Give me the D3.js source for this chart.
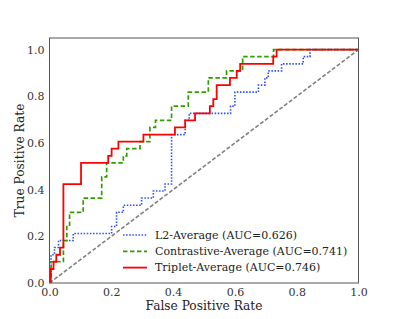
<!DOCTYPE html>
<html>
<head>
<meta charset="utf-8">
<script src="https://cdn.jsdelivr.net/npm/d3@7"></script>
<style>
  html, body { margin: 0; padding: 0; background: #fff; }
  svg { display: block; font-family: 'DejaVu Serif', serif; }
</style>
</head>
<body>
<svg id="chart" width="399" height="319"></svg>
<script>
// ROC points: at fpr[i] the curve rises to tpr[i]
const l2Fpr = [0.005, 0.016, 0.029, 0.077, 0.201, 0.217, 0.239, 0.298, 0.336, 0.374, 0.395, 0.439, 0.452, 0.586, 0.6, 0.676, 0.697, 0.708, 0.751, 0.821, 0.843, 1]
const l2Tpr = [0.121, 0.152, 0.182, 0.212, 0.242, 0.303, 0.333, 0.364, 0.394, 0.424, 0.636, 0.697, 0.727, 0.758, 0.818, 0.848, 0.879, 0.909, 0.939, 0.970, 1, 1]

const contrastiveFpr = [0.005, 0.045, 0.056, 0.065, 0.109, 0.169, 0.185, 0.239, 0.25, 0.293, 0.325, 0.343, 0.395, 0.449, 0.514, 0.573, 0.625, 0.725, 1]
const contrastiveTpr = [0.091, 0.182, 0.242, 0.303, 0.364, 0.455, 0.515, 0.545, 0.576, 0.606, 0.667, 0.697, 0.758, 0.818, 0.879, 0.909, 0.970, 1, 1]

const tripletFpr = [0.004, 0.013, 0.022, 0.034, 0.045, 0.102, 0.19, 0.201, 0.223, 0.304, 0.406, 0.439, 0.471, 0.519, 0.53, 0.541, 0.584, 0.606, 0.617, 0.724, 0.735, 1]
const tripletTpr = [0.06, 0.091, 0.121, 0.152, 0.424, 0.515, 0.545, 0.576, 0.606, 0.636, 0.667, 0.697, 0.727, 0.758, 0.788, 0.848, 0.879, 0.909, 0.939, 0.970, 1, 1]

const seriesNames = ['L2-Average (AUC=0.626)', 'Contrastive-Average (AUC=0.741)', 'Triplet-Average (AUC=0.746)']
const ticks = [0, 0.2, 0.4, 0.6, 0.8, 1.0]

const margin = { left: 49.5, right: 40.5, top: 38, bottom: 36 }
const width = 399
const height = 319

let svg = d3.select('#chart')

let x = d3.scaleLinear().domain([0, 1]).range([margin.left, width - margin.right])
let y = d3.scaleLinear().domain([0, 1.05]).range([height - margin.bottom, margin.top])

let series = [
  { name: seriesNames[0], fpr: l2Fpr, tpr: l2Tpr, color: '#2a4cff', width: 1.6, dash: '1.5,1.6' },
  { name: seriesNames[1], fpr: contrastiveFpr, tpr: contrastiveTpr, color: '#2f9f00', width: 1.7, dash: '4.5,2.5' },
  { name: seriesNames[2], fpr: tripletFpr, tpr: tripletTpr, color: '#ff0000', width: 1.8, dash: null },
]

// Plot clip
svg.append('clipPath').attr('id', 'plotClip')
  .append('rect')
  .attr('x', x(0)).attr('y', y(1.05))
  .attr('width', x(1) - x(0)).attr('height', y(0) - y(1.05))

let plot = svg.append('g').attr('clip-path', 'url(#plotClip)')

// Chance diagonal
plot.append('line')
  .attr('x1', x(0)).attr('y1', y(0))
  .attr('x2', x(1)).attr('y2', y(1))
  .attr('stroke', '#808080')
  .attr('stroke-width', 1.6)
  .attr('stroke-dasharray', '4,2')

let line = d3.line()
  .x(d => x(d[0]))
  .y(d => y(d[1]))
  .curve(d3.curveStepAfter)

series.forEach(s => {
  let pts = [[0, 0]].concat(s.fpr.map((f, i) => [f, s.tpr[i]]))
  plot.append('path')
    .datum(pts)
    .attr('d', line)
    .attr('fill', 'none')
    .attr('stroke', s.color)
    .attr('stroke-width', s.width)
    .attr('stroke-dasharray', s.dash)
})

// Frame
svg.append('rect')
  .attr('x', x(0)).attr('y', y(1.05))
  .attr('width', x(1) - x(0)).attr('height', y(0) - y(1.05))
  .attr('fill', 'none')
  .attr('stroke', '#555')
  .attr('stroke-width', 1)

// Tick labels
let xAxis = svg.append('g')
  .attr('transform', `translate(0,${y(0)})`)
  .call(d3.axisBottom(x).tickValues(ticks).tickFormat(d3.format('.1f')).tickSize(0).tickPadding(5))
let yAxis = svg.append('g')
  .attr('transform', `translate(${x(0)},0)`)
  .call(d3.axisLeft(y).tickValues(ticks).tickFormat(d3.format('.1f')).tickSize(0).tickPadding(5))

;[xAxis, yAxis].forEach(a => {
  a.select('.domain').remove()
  a.selectAll('text')
    .style('font-family', 'DejaVu Serif')
    .style('font-size', '11px')
    .attr('fill', '#333')
})

// Axis titles
svg.append('text')
  .attr('x', (x(0) + x(1)) / 2)
  .attr('y', 310)
  .attr('text-anchor', 'middle')
  .style('font-size', '12.2px')
  .attr('fill', '#222')
  .text('False Positive Rate')

svg.append('text')
  .attr('transform', `translate(24,${(y(0) + y(1.05)) / 2}) rotate(-90)`)
  .attr('text-anchor', 'middle')
  .style('font-size', '12.2px')
  .attr('fill', '#222')
  .text('True Positive Rate')

// Legend
let legend = svg.append('g')
series.forEach((s, i) => {
  let ly = 235 + i * 16.3
  legend.append('line')
    .attr('x1', 123).attr('x2', 147)
    .attr('y1', ly).attr('y2', ly)
    .attr('stroke', s.color)
    .attr('stroke-width', s.width)
    .attr('stroke-dasharray', s.dash)
  legend.append('text')
    .attr('x', 155)
    .attr('y', ly)
    .attr('dy', '0.35em')
    .style('font-size', '11px')
    .attr('fill', '#222')
    .text(s.name)
})
</script>
</body>
</html>
